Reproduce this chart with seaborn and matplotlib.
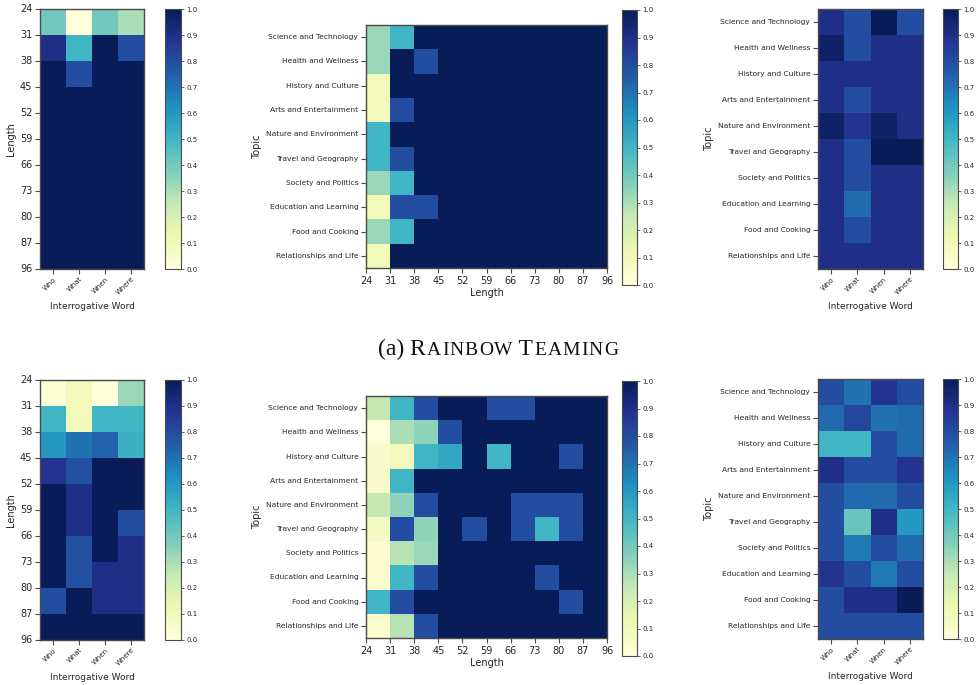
import numpy as np
import pandas as pd
import matplotlib
matplotlib.use("Agg")
import matplotlib.pyplot as plt
import seaborn as sns

# ---- labels ----
words = ["Who", "What", "When", "Where"]
length_ticks = [24, 31, 38, 45, 52, 59, 66, 73, 80, 87, 96]
topics = [
    "Science and Technology",
    "Health and Wellness",
    "History and Culture",
    "Arts and Entertainment",
    "Nature and Environment",
    "Travel and Geography",
    "Society and Politics",
    "Education and Learning",
    "Food and Cooking",
    "Relationships and Life",
]

# ---- Rainbow Teaming: length bin x interrogative word ----
rt_length_word = [
    [0.40, 0.00, 0.40, 0.30],
    [0.90, 0.50, 1.00, 0.80],
    [1.00, 0.80, 1.00, 1.00],
    [1.00, 1.00, 1.00, 1.00],
    [1.00, 1.00, 1.00, 1.00],
    [1.00, 1.00, 1.00, 1.00],
    [1.00, 1.00, 1.00, 1.00],
    [1.00, 1.00, 1.00, 1.00],
    [1.00, 1.00, 1.00, 1.00],
    [1.00, 1.00, 1.00, 1.00],
]

# ---- Rainbow Teaming: topic x length bin ----
rt_topic_length = [
    [0.33, 0.50, 1.00, 1.00, 1.00, 1.00, 1.00, 1.00, 1.00, 1.00],
    [0.33, 1.00, 0.80, 1.00, 1.00, 1.00, 1.00, 1.00, 1.00, 1.00],
    [0.10, 1.00, 1.00, 1.00, 1.00, 1.00, 1.00, 1.00, 1.00, 1.00],
    [0.10, 0.80, 1.00, 1.00, 1.00, 1.00, 1.00, 1.00, 1.00, 1.00],
    [0.50, 1.00, 1.00, 1.00, 1.00, 1.00, 1.00, 1.00, 1.00, 1.00],
    [0.50, 0.80, 1.00, 1.00, 1.00, 1.00, 1.00, 1.00, 1.00, 1.00],
    [0.33, 0.50, 1.00, 1.00, 1.00, 1.00, 1.00, 1.00, 1.00, 1.00],
    [0.10, 0.80, 0.80, 1.00, 1.00, 1.00, 1.00, 1.00, 1.00, 1.00],
    [0.33, 0.50, 1.00, 1.00, 1.00, 1.00, 1.00, 1.00, 1.00, 1.00],
    [0.10, 1.00, 1.00, 1.00, 1.00, 1.00, 1.00, 1.00, 1.00, 1.00],
]

# ---- Rainbow Teaming: topic x interrogative word ----
rt_topic_word = [
    [0.90, 0.80, 1.00, 0.80],
    [0.97, 0.80, 0.90, 0.90],
    [0.90, 0.90, 0.90, 0.90],
    [0.90, 0.80, 0.90, 0.90],
    [0.97, 0.88, 0.97, 0.90],
    [0.90, 0.80, 1.00, 1.00],
    [0.90, 0.80, 0.90, 0.90],
    [0.90, 0.72, 0.90, 0.90],
    [0.90, 0.80, 0.90, 0.90],
    [0.90, 0.90, 0.90, 0.90],
]

# ---- second method: length bin x interrogative word ----
b_length_word = [
    [0.02, 0.10, 0.00, 0.33],
    [0.50, 0.10, 0.50, 0.50],
    [0.60, 0.70, 0.74, 0.52],
    [0.88, 0.79, 1.00, 1.00],
    [1.00, 0.90, 1.00, 1.00],
    [1.00, 0.90, 1.00, 0.80],
    [1.00, 0.79, 1.00, 0.90],
    [1.00, 0.79, 0.90, 0.90],
    [0.80, 1.00, 0.90, 0.90],
    [1.00, 1.00, 1.00, 1.00],
]

# ---- second method: topic x length bin ----
b_topic_length = [
    [0.25, 0.50, 0.80, 1.00, 1.00, 0.80, 0.80, 1.00, 1.00, 1.00],
    [0.00, 0.30, 0.35, 0.80, 1.00, 1.00, 1.00, 1.00, 1.00, 1.00],
    [0.05, 0.10, 0.50, 0.55, 1.00, 0.50, 1.00, 1.00, 0.80, 1.00],
    [0.05, 0.50, 1.00, 1.00, 1.00, 1.00, 1.00, 1.00, 1.00, 1.00],
    [0.25, 0.35, 0.80, 1.00, 1.00, 1.00, 0.80, 0.80, 0.80, 1.00],
    [0.08, 0.80, 0.35, 1.00, 0.80, 1.00, 0.80, 0.50, 0.80, 1.00],
    [0.03, 0.28, 0.33, 1.00, 1.00, 1.00, 1.00, 1.00, 1.00, 1.00],
    [0.03, 0.50, 0.80, 1.00, 1.00, 1.00, 1.00, 0.80, 1.00, 1.00],
    [0.50, 0.80, 1.00, 1.00, 1.00, 1.00, 1.00, 1.00, 0.80, 1.00],
    [0.03, 0.28, 0.80, 1.00, 1.00, 1.00, 1.00, 1.00, 1.00, 1.00],
]

# ---- second method: topic x interrogative word ----
b_topic_word = [
    [0.80, 0.70, 0.88, 0.80],
    [0.72, 0.82, 0.70, 0.72],
    [0.50, 0.50, 0.80, 0.72],
    [0.90, 0.80, 0.80, 0.88],
    [0.80, 0.72, 0.72, 0.80],
    [0.80, 0.42, 0.90, 0.60],
    [0.80, 0.68, 0.80, 0.72],
    [0.88, 0.80, 0.68, 0.80],
    [0.80, 0.90, 0.90, 1.00],
    [0.80, 0.80, 0.80, 0.80],
]

sns.set_theme(style="ticks")
plt.rcParams["font.family"] = ["DejaVu Sans"]

W, H = 976, 685
fig = plt.figure(figsize=(W / 100, H / 100), dpi=100)


def box(x0, y0, x1, y1):
    """pixel box (top-left origin) -> figure fraction rect"""
    return [x0 / W, 1 - y1 / H, (x1 - x0) / W, (y1 - y0) / H]


EDGE = "#4a4a4a"
TXT = "#262626"


def style_axes(ax, cax):
    for s in ax.spines.values():
        s.set_visible(True)
        s.set_color(EDGE)
        s.set_linewidth(1.0)
    ax.tick_params(length=3.5, width=0.8, color=EDGE, labelcolor=TXT, pad=2)
    cbar = ax.collections[0].colorbar
    cbar.outline.set_visible(True)
    cbar.outline.set_linewidth(0.8)
    cbar.outline.set_edgecolor(EDGE)
    cbar.set_ticks(np.round(np.arange(0, 1.01, 0.1), 1))
    cbar.set_ticklabels([f"{v:.1f}" for v in np.arange(0, 1.01, 0.1)])
    cax.tick_params(length=2.5, width=0.6, color=EDGE, labelsize=5, labelcolor=TXT, pad=1.5)


def length_word_panel(data, hm_box, cb_box):
    ax = fig.add_axes(box(*hm_box))
    cax = fig.add_axes(box(*cb_box))
    df = pd.DataFrame(data, index=length_ticks[:-1], columns=words)
    sns.heatmap(df, ax=ax, cbar_ax=cax, cmap="YlGnBu", vmin=0, vmax=1)
    ax.set_yticks(np.arange(len(length_ticks)))
    ax.set_yticklabels([str(v) for v in length_ticks], rotation=0, fontsize=7)
    ax.set_xticks(np.arange(len(words)) + 0.5)
    ax.set_xticklabels(words, rotation=45, ha="right", rotation_mode="anchor", fontsize=5)
    ax.set_ylabel("Length", fontsize=7, color=TXT, labelpad=3)
    ax.set_xlabel("Interrogative Word", fontsize=6.5, color=TXT, labelpad=4)
    style_axes(ax, cax)
    ax.tick_params(axis="x", pad=1.5)


def topic_length_panel(data, hm_box, cb_box):
    ax = fig.add_axes(box(*hm_box))
    cax = fig.add_axes(box(*cb_box))
    df = pd.DataFrame(data, index=topics, columns=length_ticks[:-1])
    sns.heatmap(df, ax=ax, cbar_ax=cax, cmap="YlGnBu", vmin=0, vmax=1)
    ax.set_xticks(np.arange(len(length_ticks)))
    ax.set_xticklabels([str(v) for v in length_ticks], rotation=0, fontsize=7)
    ax.set_yticks(np.arange(len(topics)) + 0.5)
    ax.set_yticklabels(topics, rotation=0, fontsize=5.4)
    ax.set_xlabel("Length", fontsize=7, color=TXT, labelpad=2)
    ax.set_ylabel("Topic", fontsize=7, color=TXT, labelpad=3)
    style_axes(ax, cax)


def topic_word_panel(data, hm_box, cb_box):
    ax = fig.add_axes(box(*hm_box))
    cax = fig.add_axes(box(*cb_box))
    df = pd.DataFrame(data, index=topics, columns=words)
    sns.heatmap(df, ax=ax, cbar_ax=cax, cmap="YlGnBu", vmin=0, vmax=1)
    ax.set_xticks(np.arange(len(words)) + 0.5)
    ax.set_xticklabels(words, rotation=45, ha="right", rotation_mode="anchor", fontsize=5)
    ax.set_yticks(np.arange(len(topics)) + 0.5)
    ax.set_yticklabels(topics, rotation=0, fontsize=5.4)
    ax.set_xlabel("Interrogative Word", fontsize=6.5, color=TXT, labelpad=4)
    ax.set_ylabel("Topic", fontsize=7, color=TXT, labelpad=3)
    style_axes(ax, cax)
    ax.tick_params(axis="x", pad=1.5)


# top row
length_word_panel(rt_length_word, (40, 9, 144, 269), (165, 9, 181, 269))
topic_length_panel(rt_topic_length, (366, 25, 607, 268), (622, 10, 637, 285))
topic_word_panel(rt_topic_word, (818, 9, 923, 269), (943, 9, 958, 269))

# bottom row
length_word_panel(b_length_word, (40, 380, 144, 640), (165, 380, 181, 640))
topic_length_panel(b_topic_length, (366, 396, 607, 638), (622, 381, 637, 656))
topic_word_panel(b_topic_word, (818, 379, 923, 639), (943, 379, 958, 639))

# caption in small caps: full-size capitals plus reduced-size letters,
# laid out one glyph at a time with a little tracking
BIG, SMALL = 17.0, 14.0
caption_parts = [("(a) R", BIG, False), ("AINBOW", SMALL, True),
                 (" T", BIG, False), ("EAMING", SMALL, True)]
renderer = fig.canvas.get_renderer()
glyphs = []
for s, size, split in caption_parts:
    chunks = list(s) if split else [s]
    for c in chunks:
        t = fig.text(0, 0, c, fontsize=size, family="Liberation Serif", color="#111111",
                     ha="left", va="baseline")
        glyphs.append((t, t.get_window_extent(renderer).width))
natural = sum(w for _, w in glyphs)
target = 240.0
gap = max(0.0, (target - natural) / (len(glyphs) - 1))
x = 498 - (natural + gap * (len(glyphs) - 1)) / 2
y_base = 1 - 355 / H
for t, w in glyphs:
    t.set_position((x / W, y_base))
    x += w + gap

fig.savefig("out.png", dpi=100)
